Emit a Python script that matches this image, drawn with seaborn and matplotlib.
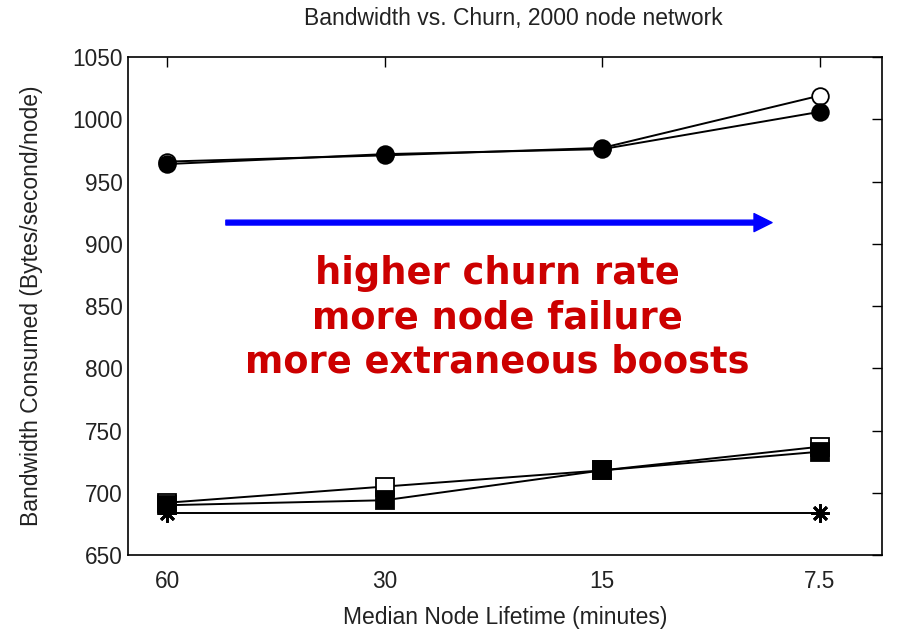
import matplotlib
matplotlib.use("Agg")
import matplotlib.pyplot as plt
import seaborn as sns
import numpy as np

# Median node lifetime categories (minutes), plotted at evenly spaced positions
lifetimes = ["60", "30", "15", "7.5"]
positions = [0, 1, 2, 3]

# Bandwidth consumed (bytes/second/node) for each scheme
circle_open = [966, 971, 977, 1019]
circle_filled = [964, 972, 976, 1006]
square_open = [692, 705, 718, 737]
square_filled = [690, 694, 718, 733]

# Baseline is measured only at the two extreme lifetimes
baseline_positions = [0, 3]
baseline = [684, 684]

yticks = [650, 700, 750, 800, 850, 900, 950, 1000, 1050]

annotation_lines = ["higher churn rate", "more node failure", "more extraneous boosts"]

sns.set_theme(style="white")
plt.rcParams["font.family"] = ["Liberation Sans", "DejaVu Sans"]

fig = plt.figure(figsize=(9.03, 6.32), dpi=100)
ax = fig.add_axes([0.1417, 0.1218, 0.835, 0.788])

circle_kw = dict(color="black", linewidth=1.4, markersize=12, markeredgewidth=1.3,
                 markeredgecolor="black")
square_kw = dict(color="black", linewidth=1.4, markersize=13, markeredgewidth=1.3,
                 markeredgecolor="black")

sns.lineplot(x=baseline_positions, y=baseline, ax=ax, marker=(8, 2, 0), markersize=13,
             markeredgewidth=2.0, markeredgecolor="black", color="black", linewidth=1.4)
sns.lineplot(x=positions, y=square_open, ax=ax, marker="s", markerfacecolor="white", **square_kw)
sns.lineplot(x=positions, y=square_filled, ax=ax, marker="s", markerfacecolor="black", **square_kw)
sns.lineplot(x=positions, y=circle_open, ax=ax, marker="o", markerfacecolor="white", **circle_kw)
sns.lineplot(x=positions, y=circle_filled, ax=ax, marker="o", markerfacecolor="black", **circle_kw)

ax.set_xlim(-0.18, 3.285)
ax.set_ylim(650, 1050)
ax.set_xticks(positions)
ax.set_xticklabels(lifetimes)
ax.set_yticks(yticks)
ax.tick_params(axis="both", direction="in", length=7, width=1, color="black",
               top=True, right=True, labelsize=16.3, labelcolor="#222222", pad=11)
ax.tick_params(axis="y", pad=4)
for s in ax.spines.values():
    s.set_color("black")
    s.set_linewidth(1.2)

ax.set_xlabel("Median Node Lifetime (minutes)", fontsize=16.5, color="#222222", labelpad=9)
ax.set_ylabel("Bandwidth Consumed (Bytes/second/node)", fontsize=16.5, color="#222222", labelpad=21)
fig.text(0.5687, 0.9715, "Bandwidth vs. Churn, 2000 node network", fontsize=16.5,
         color="#222222", ha="center", va="center")

# Trend arrow toward shorter lifetimes
ax.annotate("", xy=(2.78, 917), xytext=(0.27, 917),
            arrowprops=dict(facecolor="#0000ff", edgecolor="#0000ff",
                            width=3.5, headwidth=13, headlength=13, shrink=0))

for text, yv in zip(annotation_lines, [876, 840, 805]):
    ax.text(1.516, yv, text, ha="center", va="center", fontsize=26.5,
            fontweight="bold", color="#cc0000", family="DejaVu Sans")

fig.savefig("out.png", dpi=100)
